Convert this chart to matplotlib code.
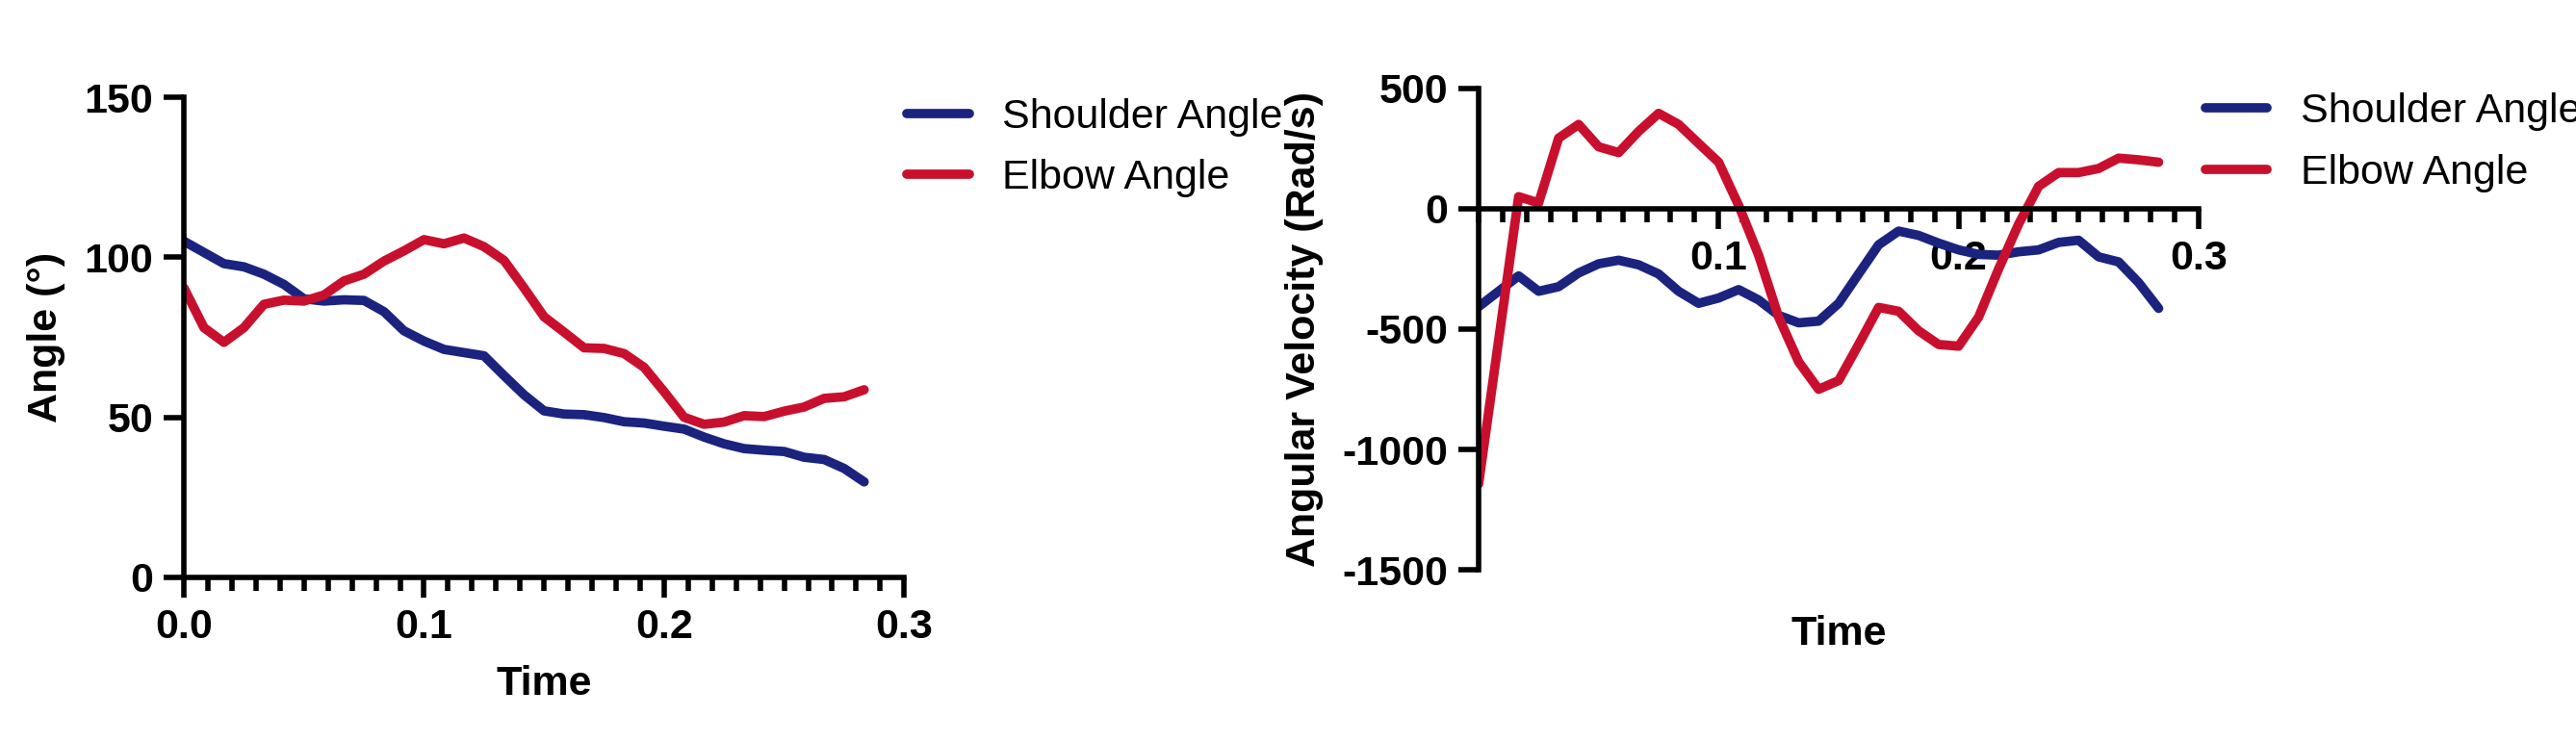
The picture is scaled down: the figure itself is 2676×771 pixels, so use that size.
import numpy as np
import matplotlib.pyplot as plt
from matplotlib.ticker import MultipleLocator

plt.rcParams['font.family'] = ['Liberation Sans', 'DejaVu Sans']

# joint angles sampled at 120 Hz
time_angle = np.arange(35) / 120
shoulder_angle = [105, 101.5, 98, 97, 94.7, 91.5, 87, 86.3, 86.7, 86.5, 83, 77, 73.8, 71.2,
                  70.2, 69.2, 63, 57, 52, 51, 50.8, 49.9, 48.6, 48.2, 47.2, 46.3, 43.8, 41.7,
                  40.2, 39.7, 39.3, 37.5, 36.8, 34, 29.8]
elbow_angle = [90.4, 78, 73.4, 78, 85.3, 86.6, 86.3, 88.2, 92.6, 94.7, 98.8, 102, 105.5, 104.2,
               106, 103.3, 99, 90.4, 81.4, 76.6, 71.7, 71.5, 69.9, 65.6, 58, 50, 47.8, 48.5,
               50.5, 50.2, 51.9, 53.2, 55.9, 56.4, 58.6]

# angular velocities (frame 1 missing)
time_vel = np.array([0] + list(range(2, 35))) / 120
shoulder_vel = [-407, -279, -343, -324, -267, -229, -214, -233, -271, -343, -393, -371, -336,
                -379, -443, -474, -467, -393, -271, -150, -93, -111, -143, -171, -190, -193,
                -179, -171, -140, -131, -200, -221, -307, -414]
elbow_vel = [-1143, 50, 24, 293, 350, 257, 233, 321, 396, 350, 271, 193, 14, -193, -450, -636,
             -750, -714, -564, -410, -426, -507, -564, -571, -450, -250, -64, 93, 150, 150,
             167, 210, 203, 193]

blue = '#1b237f'
red = '#c8102e'
lw = 7
fs = 31
tick_font = dict(fontsize=fs, fontweight='bold')
leg_kw = dict(loc='upper left', frameon=False, fontsize=fs, handlelength=1.5,
              labelspacing=0.55, handletextpad=0.8, borderpad=0, borderaxespad=0)

fig = plt.figure(figsize=(26.76, 7.71), dpi=100)
ax1 = fig.add_axes([0.0714, 0.222, 0.2796, 0.647])
ax2 = fig.add_axes([0.574, 0.232, 0.2795, 0.649])

for ax in (ax1, ax2):
    for s in ('top', 'right'):
        ax.spines[s].set_visible(False)
    for s in ('left', 'bottom'):
        ax.spines[s].set_linewidth(4)
    ax.tick_params(which='major', width=4, length=15, labelsize=fs, pad=8)
    ax.tick_params(which='minor', width=4, length=10)
    ax.xaxis.set_minor_locator(MultipleLocator(0.01))
    ax.set_xlim(0, 0.3)

# left: angles
ax1.plot(time_angle, shoulder_angle, color=blue, lw=lw, label='Shoulder Angle', solid_capstyle='round')
ax1.plot(time_angle, elbow_angle, color=red, lw=lw, label='Elbow Angle', solid_capstyle='round')
ax1.set_ylim(0, 150)
ax1.set_yticks([0, 50, 100, 150])
ax1.set_xticks([0, 0.1, 0.2, 0.3])
ax1.set_xticklabels(['0.0', '0.1', '0.2', '0.3'], **tick_font)
ax1.set_yticklabels(['0', '50', '100', '150'], **tick_font)
ax1.set_xlabel('Time', fontsize=fs, fontweight='bold', labelpad=14)
ax1.set_ylabel('Angle (°)', fontsize=fs, fontweight='bold', labelpad=14)
ax1.legend(bbox_to_anchor=(0.352, 0.868), bbox_transform=fig.transFigure, **leg_kw)

# right: velocities
ax2.plot(time_vel, shoulder_vel, color=blue, lw=lw, label='Shoulder Angle', solid_capstyle='round')
ax2.plot(time_vel, elbow_vel, color=red, lw=lw, label='Elbow Angle', solid_capstyle='round')
ax2.set_ylim(-1500, 500)
ax2.spines['bottom'].set_position(('data', 0))
ax2.set_yticks([-1500, -1000, -500, 0, 500])
ax2.set_yticklabels(['-1500', '-1000', '-500', '0', '500'], **tick_font)
ax2.set_xticks([0.1, 0.2, 0.3])
ax2.set_xticklabels(['0.1', '0.2', '0.3'], **tick_font)
ax2.set_ylabel('Angular Velocity (Rad/s)', fontsize=fs, fontweight='bold', labelpad=14)
fig.text(0.714, 0.145, 'Time', fontsize=fs, fontweight='bold', ha='center', va='center')
ax2.legend(bbox_to_anchor=(0.856, 0.875), bbox_transform=fig.transFigure, **leg_kw)

fig.savefig('out.png', dpi=100)
